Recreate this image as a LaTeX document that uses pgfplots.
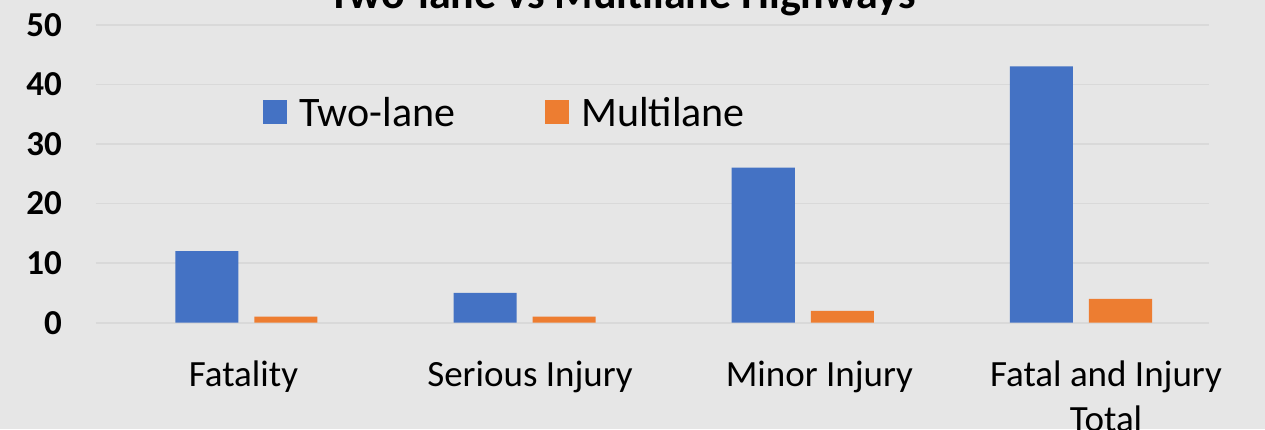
\documentclass[border=0pt]{standalone}
\usepackage{pgfplots}
\pgfplotsset{compat=1.18}
\usepackage{fontspec}
\setmainfont{Carlito}
\definecolor{bg}{HTML}{E6E6E6}
\definecolor{gridc}{HTML}{D9D9D9}
\definecolor{blueb}{HTML}{4472C4}
\definecolor{orangeb}{HTML}{ED7D31}
\begin{document}
\begin{tikzpicture}
\useasboundingbox (0,0) rectangle (1265pt,429pt);
\fill[bg] (0,0) rectangle (1265pt,429pt);
\begin{axis}[
  at={(96pt,106.3pt)}, anchor=south west,
  scale only axis, width=1113pt, height=298pt,
  ymin=0, ymax=50, ytick={0,10,...,50},
  xmin=-0.54, xmax=3.46,
  xtick={-0.01,1.02,2.06,3.09},
  xticklabels={Fatality,Serious Injury,Minor Injury,Fatal and Injury\\Total},
  axis line style={draw=none},
  major tick length=0pt,
  ymajorgrids, grid style={gridc, line width=1.6pt},
  ybar=16pt, bar width=63pt,
  /pgf/number format/assume math mode=true,
  yticklabel style={font=\fontsize{35}{40}\selectfont\bfseries, inner sep=0pt, anchor=east, xshift=-34pt},
  xticklabel style={font=\fontsize{37}{45}\selectfont, align=center, anchor=north, inner sep=0pt, yshift=-38pt},
  title={Two-lane vs Multilane Highways},
  title style={at={(axis description cs:0.2084,1.0359)}, anchor=base west, inner sep=0pt, font=\fontsize{44}{50}\selectfont\bfseries},
  legend columns=2,
  legend style={at={(axis description cs:0.150,0.7575)}, anchor=north west, draw=none, fill=none, inner sep=0pt,
    nodes={inner sep=0pt}, font=\fontsize{42}{48}\selectfont,
    /tikz/every odd column/.append style={column sep=12pt},
    /tikz/every even column/.append style={column sep=90pt}},
  legend image code/.code={\fill[#1] (0pt,-12pt) rectangle (24pt,12pt);},
  clip=false,
]
\addplot[fill=blueb, draw=none] coordinates {(0,12) (1,5) (2,26) (3,43)};
\addplot[fill=orangeb, draw=none] coordinates {(0,1) (1,1) (2,2) (3,4)};
\legend{Two-lane,Multilane}
\end{axis}
\end{tikzpicture}
\end{document}
